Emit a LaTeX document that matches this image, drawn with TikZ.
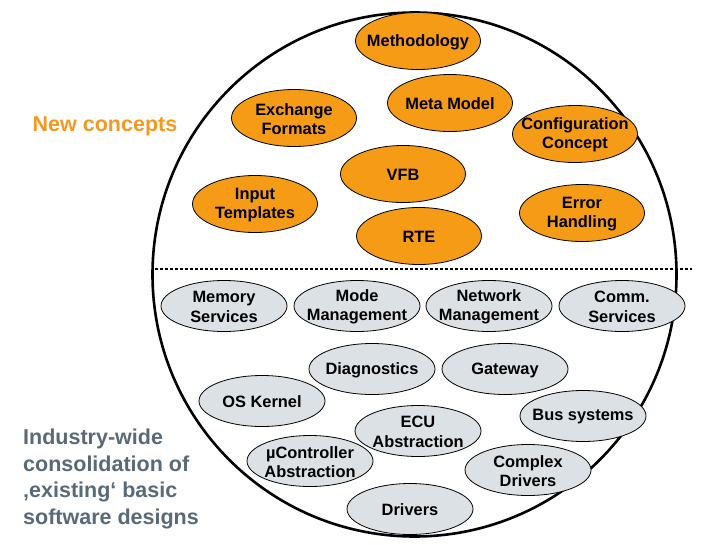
\documentclass[tikz,border=0pt]{standalone}
\usepackage{fontspec}
\setmainfont{Liberation Sans}
\usetikzlibrary{shapes.geometric}
\definecolor{autoorange}{RGB}{245,155,22}
\definecolor{titleorange}{RGB}{247,152,30}
\definecolor{bswgrey}{RGB}{219,225,229}
\definecolor{slate}{RGB}{88,106,122}
\tikzset{
  ellbase/.style={ellipse, draw=black, line width=0.8pt, inner sep=0pt},
  newell/.style={ellbase, fill=autoorange, minimum width=125pt, minimum height=57pt},
  bswell/.style={ellbase, fill=bswgrey, minimum width=126pt, minimum height=51pt},
  lab/.style={font=\fontsize{16.4}{19.5}\selectfont\bfseries, align=center, inner sep=0pt, yshift=-1pt},
  sidetext/.style={font=\fontsize{21.5}{26.5}\selectfont\bfseries, inner sep=0pt}
}
\begin{document}
\begin{tikzpicture}[x=1pt,y=-1pt]
\useasboundingbox (0,0) rectangle (704,544);
% world circle
\node[circle, draw=black, line width=2.6pt, minimum size=524pt, inner sep=0pt] (world) at (414.5,274.5) {};
% separator
\coordinate (sepL) at (155,269);
\coordinate (sepR) at (692,269);
\draw[line width=2.5pt, dash pattern=on 2.5pt off 2.5pt] (sepL) -- (sepR);
% new concepts
\node[newell] (meth) at (418,41) {};   \node[lab] at (meth) {Methodology};
\node[newell] (exch) at (294,118) {};  \node[lab] at (exch) {Exchange\\Formats};
\node[newell] (meta) at (450,103) {};  \node[lab] at (meta) {Meta Model};
\node[newell] (conf) at (575,134) {};  \node[lab] at (conf) {Configuration\\Concept};
\node[newell] (vfb) at (403,174) {};   \node[lab] at (vfb) {VFB};
\node[newell] (inp) at (255,204) {};   \node[lab] at (inp) {Input\\Templates};
\node[newell] (rte) at (419,236) {};   \node[lab] at (rte) {RTE};
\node[newell] (err) at (582,213) {};   \node[lab] at (err) {Error\\Handling};
% basic software
\node[bswell] (mem) at (224,306) {};   \node[lab] at (mem) {Memory\\Services};
\node[bswell] (mode) at (357,306) {};  \node[lab] at (mode) {Mode\\Management};
\node[bswell] (net) at (489,306) {};   \node[lab] at (net) {Network\\Management};
\node[bswell] (comm) at (622,306) {};  \node[lab] at (comm) {Comm.\\Services};
\node[bswell] (diag) at (372,369) {};  \node[lab] at (diag) {Diagnostics};
\node[bswell] (gw) at (505,369) {};    \node[lab] at (gw) {Gateway};
\node[bswell] (os) at (262,401) {};    \node[lab] at (os) {OS Kernel};
\node[bswell] (ecu) at (418,431) {};   \node[lab] at (ecu) {ECU\\Abstraction};
\node[bswell] (bus) at (583,416) {};   \node[lab] at (bus) {Bus systems};
\node[bswell] (mcu) at (310,461) {};   \node[lab] at (mcu) {µController\\Abstraction};
\node[bswell] (cdd) at (528,470) {};   \node[lab] at (cdd) {Complex\\Drivers};
\node[bswell] (drv) at (410,509) {};   \node[lab] at (drv) {Drivers};
% side texts
\node[sidetext, text=titleorange] (newc) at (105,126) {New concepts};
\node[sidetext, text=slate, align=left, anchor=north west] (cons) at (23,429)
  {Industry-wide\\consolidation of\\‚existing‘ basic\\software designs};
\end{tikzpicture}
\end{document}
